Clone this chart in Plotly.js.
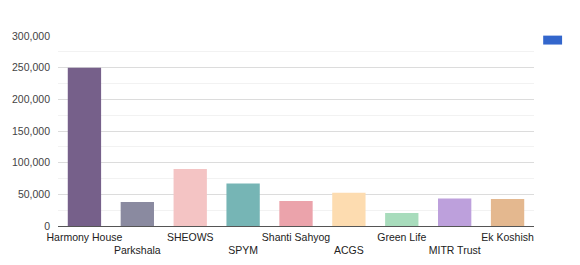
<!DOCTYPE html>
<html>
<head>
<meta charset="utf-8">
<script src="https://cdn.plot.ly/plotly-3.0.1.min.js"></script>
<style>html,body{margin:0;padding:0;background:#fff;}#chart{width:580px;height:265px;}</style>
</head>
<body>
<div id="chart"></div>
<script>
var categories = ["Harmony House","Parkshala","SHEOWS","SPYM","Shanti Sahyog","ACGS","Green Life","MITR Trust","Ek Koshish"];
var values = [250000, 38000, 90000, 67000, 39500, 52500, 20500, 43500, 42500];
var barColors = ["#76608a","#8a8aa0","#f4c4c4","#76b5b5","#eba3ab","#fddcb0","#a8dcbc","#bda0dc","#e4b88f"];
var yTickVals = [0, 50000, 100000, 150000, 200000, 250000, 300000];
var yTickText = ["0","50,000","100,000","150,000","200,000","250,000","300,000"];
var xTickText = categories.map(function(c, i){ return i % 2 === 1 ? "<br>" + c : c; });

var trace = {
  type: "bar",
  x: categories,
  y: values,
  marker: {color: barColors},
  hoverinfo: "x+y",
  showlegend: false
};

var layout = {
  width: 580, height: 265,
  margin: {l: 57.5, r: 46, t: 36, b: 39, pad: 0},
  paper_bgcolor: "#fff", plot_bgcolor: "#fff",
  font: {family: "Arial, Liberation Sans, sans-serif", size: 10.5, color: "#444"},
  bargap: 0.37,
  showlegend: false,
  xaxis: {
    type: "category",
    tickvals: categories,
    ticktext: xTickText,
    tickangle: 0,
    automargin: false,
    showgrid: false,
    showline: true, linecolor: "#555", linewidth: 1,
    ticks: "", ticklen: 0,
    ticklabelstandoff: 1,
    tickfont: {size: 10.5, color: "#222"},
    fixedrange: true
  },
  yaxis: {
    range: [0, 300000],
    tickvals: yTickVals,
    ticktext: yTickText,
    showgrid: true, gridcolor: "#dcdcdc", gridwidth: 1,
    zeroline: false,
    ticks: "",
    ticklabelstandoff: 7,
    automargin: false,
    tickfont: {size: 10.5, color: "#444"},
    minor: {dtick: 25000, showgrid: true, gridcolor: "#f2f2f2", gridwidth: 1},
    fixedrange: true
  },
  shapes: [{
    type: "rect", xref: "paper", yref: "paper",
    x0: 1.0193, x1: 1.059, y0: 0.955, y1: 1.002,
    fillcolor: "#3366cc", line: {width: 0}
  }]
};

Plotly.newPlot("chart", [trace], layout, {displayModeBar: false, staticPlot: true});
</script>
</body>
</html>
